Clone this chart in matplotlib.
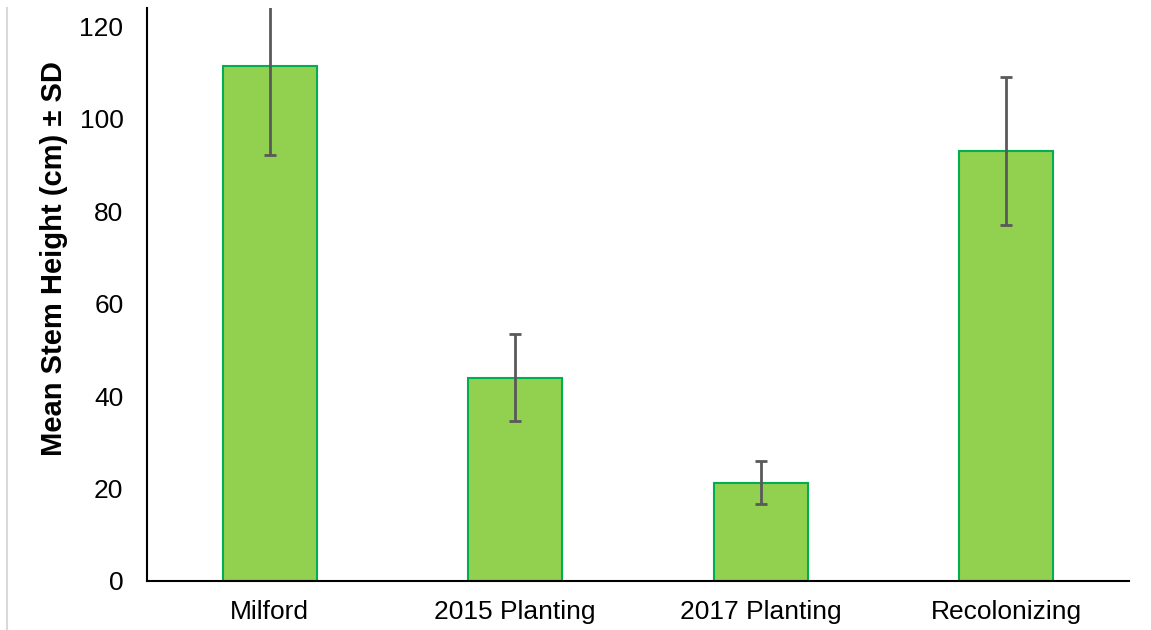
import matplotlib
matplotlib.use("Agg")
import matplotlib.pyplot as plt
from matplotlib.lines import Line2D

categories = ["Milford", "2015 Planting", "2017 Planting", "Recolonizing"]
mean_height = [111.4, 44.0, 21.3, 93.0]
sd_height = [19.3, 9.4, 4.7, 16.0]

plt.rcParams['font.family'] = ['Liberation Sans', 'DejaVu Sans']

fig = plt.figure(figsize=(11.51, 6.30), dpi=100)
ax = fig.add_axes([147/1151, 49/630, (1129-147)/1151, (581-8)/630])

x = list(range(len(categories)))
ax.bar(x, mean_height, width=0.383, color='#92D050', edgecolor='#00B050',
       linewidth=1.5, zorder=2)
ax.errorbar(x, mean_height, yerr=sd_height, fmt='none', ecolor='#595959',
            elinewidth=2, capsize=4, capthick=2, zorder=3)

ax.set_xlim(-0.5, len(categories) - 0.5)
ax.set_ylim(0, 124)
ax.set_yticks([0, 20, 40, 60, 80, 100, 120])
ax.set_xticks(x)
ax.set_xticklabels(categories)
ax.tick_params(axis='both', length=0, labelsize=19, colors='#000000')
ax.tick_params(axis='y', pad=17)
ax.tick_params(axis='x', pad=14)

for s in ['top', 'right']:
    ax.spines[s].set_visible(False)
for s in ['left', 'bottom']:
    ax.spines[s].set_linewidth(1.5)
    ax.spines[s].set_color('#000000')

ax.set_ylabel("Mean Stem Height (cm) ± SD", fontsize=21, fontweight='bold')
ax.yaxis.set_label_coords((68-147)/982, 0.563)

fig.add_artist(Line2D([7/1151, 7/1151], [0, 622/630], transform=fig.transFigure,
                      color='#d9d9d9', linewidth=1.5))

fig.savefig("out.png", dpi=100)
